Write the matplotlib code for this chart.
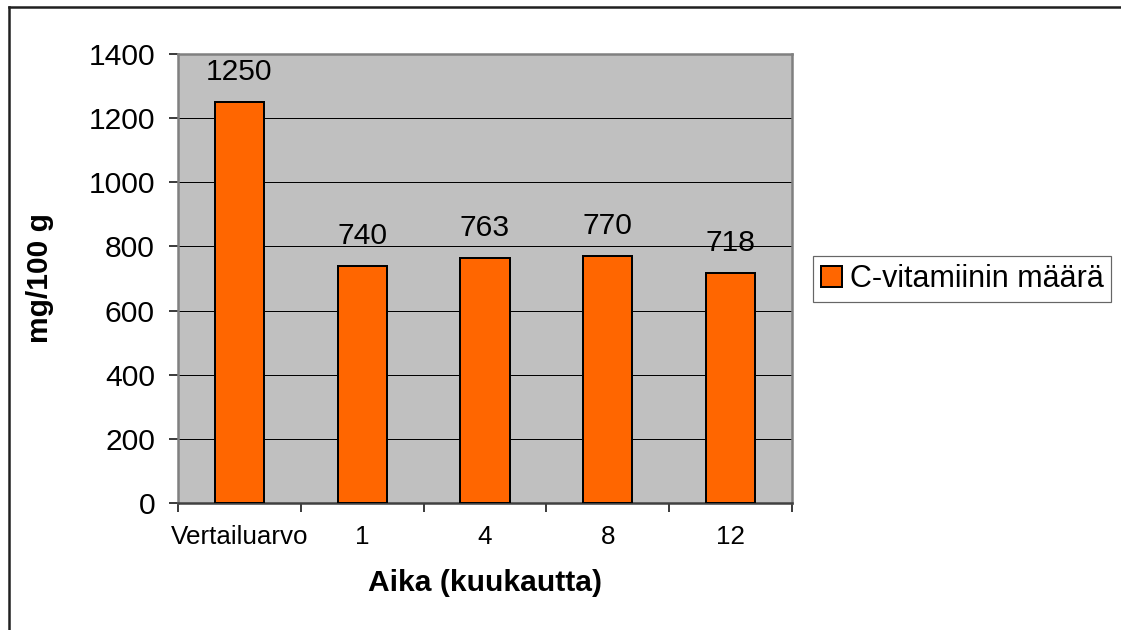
import matplotlib
matplotlib.use("Agg")
import matplotlib.pyplot as plt
from matplotlib.lines import Line2D

categories = ["Vertailuarvo", "1", "4", "8", "12"]
values = [1250, 740, 763, 770, 718]
series_name = "C-vitamiinin määrä"
yticks = [0, 200, 400, 600, 800, 1000, 1200, 1400]

plt.rcParams['font.family'] = ['Liberation Sans', 'DejaVu Sans']

W, H = 1121, 630
DPI = 72
fig = plt.figure(figsize=(W / DPI, H / DPI), dpi=DPI)
fig.patch.set_facecolor('white')

L, R, T, B = 178, 792, 54, 503
ax = fig.add_axes([L / W, 1 - B / H, (R - L) / W, (B - T) / H])
ax.set_facecolor('#C0C0C0')

x = list(range(len(categories)))
bars = ax.bar(x, values, width=0.4, color='#FF6600', edgecolor='black',
              linewidth=2, zorder=3, label=series_name)

ax.set_xlim(-0.5, len(categories) - 0.5)
ax.set_ylim(0, 1400)
ax.set_yticks(yticks)
ax.set_yticklabels([str(v) for v in yticks], fontsize=30)
ax.yaxis.grid(True, color='black', linewidth=1, zorder=1)
ax.set_axisbelow(True)

# x ticks at category boundaries, labels at centers
ax.set_xticks([i - 0.5 for i in range(len(categories) + 1)])
ax.set_xticklabels([])
ax.set_xticks(x, minor=True)
ax.set_xticklabels(categories, minor=True, fontsize=26)
ax.tick_params(axis='x', which='minor', length=0, pad=22)
ax.tick_params(axis='x', which='major', length=9, width=1.5, color='black')
ax.tick_params(axis='y', length=9, width=1.5, color='black', pad=14)

for s in ['top', 'right', 'left']:
    ax.spines[s].set_color('#808080')
    ax.spines[s].set_linewidth(2.5)
ax.spines['bottom'].set_color('#404040')
ax.spines['bottom'].set_linewidth(2.5)

for b, v in zip(bars, values):
    ax.annotate(str(v), (b.get_x() + b.get_width() / 2, v),
                xytext=(0, 16), textcoords='offset points',
                ha='center', va='bottom', fontsize=30)

ax.set_xlabel("Aika (kuukautta)", fontsize=30, fontweight='bold')
ax.xaxis.set_label_coords(0.5, (B - 583) / (B - T), transform=ax.transAxes)
ax.xaxis.label.set_va('center')
ax.set_ylabel("mg/100 g", fontsize=30, fontweight='bold')
ax.yaxis.set_label_coords((40 - L) / (R - L), 0.5)
ax.yaxis.label.set_va('center')

leg = fig.legend(handles=[bars], labels=[series_name], loc='center left',
                 bbox_to_anchor=(813 / W, 1 - 279 / H), fontsize=30.5,
                 frameon=True, fancybox=False, handlelength=0.7,
                 handleheight=0.7, handletextpad=0.25, borderpad=0.25,
                 borderaxespad=0)
leg.get_frame().set_edgecolor('#404040')
leg.get_frame().set_linewidth(1.2)

# outer chart border (top and left visible)
fig.add_artist(Line2D([9 / W, 1.0], [1 - 7 / H, 1 - 7 / H], color='#202020',
                      linewidth=2.5, transform=fig.transFigure))
fig.add_artist(Line2D([9 / W, 9 / W], [0, 1 - 7 / H], color='#202020',
                      linewidth=2.5, transform=fig.transFigure))

fig.savefig("out.png", dpi=DPI, facecolor='white')
